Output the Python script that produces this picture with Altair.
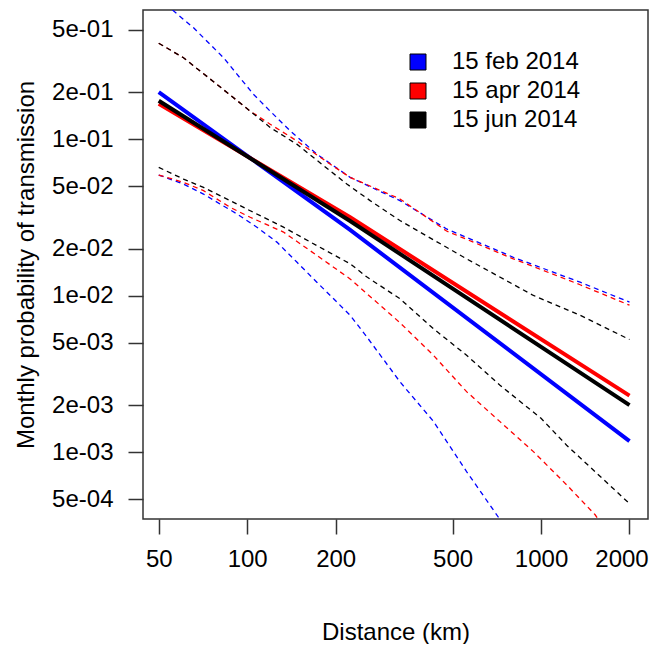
import altair as alt
import pandas as pd

series_names = ["15 feb 2014", "15 apr 2014", "15 jun 2014"]
series_colors = ["#0000FF", "#FF0000", "#000000"]

# fitted power-law curves (solid)
fit_dist = [50, 224, 2000]
fit_feb = [0.200, 0.0263, 0.00118]
fit_apr = [0.168, 0.0317, 0.00230]
fit_jun = [0.176, 0.0300, 0.00200]

# upper bounds (dashed)
upper_feb_dist = [50, 55.4, 65.7, 83.1, 105, 119.7, 140, 172.6, 224, 331, 477, 805, 1358, 2000]
upper_feb = [0.79, 0.673, 0.514, 0.331, 0.1935, 0.151, 0.113, 0.0802, 0.057, 0.0405, 0.0267, 0.0176, 0.0122, 0.0091]
upper_apr_dist = [50, 60.7, 78.8, 102.4, 119.7, 147.5, 191.4, 224, 331, 477, 805, 1358, 2000]
upper_apr = [0.41, 0.331, 0.224, 0.151, 0.1246, 0.0975, 0.0693, 0.057, 0.0415, 0.0259, 0.0172, 0.01175, 0.0087]
upper_jun_dist = [50, 60.7, 78.8, 102.4, 119.7, 147.5, 191.4, 218.3, 262, 331, 558, 942, 1358, 2000]
upper_jun = [0.41, 0.331, 0.224, 0.151, 0.1187, 0.0929, 0.0628, 0.0517, 0.0405, 0.0302, 0.0172, 0.01004, 0.0075, 0.00525]

# lower bounds (dashed)
lower_feb_dist = [50, 60.7, 71.0, 80.9, 92.3, 107.9, 126.2, 147.5, 172.6, 201.8, 224, 255, 331, 430, 558, 716, 740]
lower_feb = [0.059, 0.0517, 0.0446, 0.0385, 0.0333, 0.0274, 0.0220, 0.0164, 0.0122, 0.00912, 0.0075, 0.00548, 0.00282, 0.00158, 0.000753, 0.000385, 0.00034]
lower_apr_dist = [50, 60.7, 71.0, 87.5, 102.4, 132.9, 172.6, 224, 331, 430, 558, 725, 942, 1222, 1528, 1620]
lower_apr = [0.059, 0.053, 0.0469, 0.0367, 0.0317, 0.0255, 0.0181, 0.0128, 0.00673, 0.00417, 0.00244, 0.00157, 0.00101, 0.00062, 0.000399, 0.00034]
lower_jun_dist = [50, 60.7, 71.0, 87.5, 102.4, 132.9, 172.6, 224, 255, 331, 430, 558, 725, 1000, 1222, 2000]
lower_jun = [0.066, 0.0556, 0.0492, 0.0405, 0.0349, 0.0274, 0.0209, 0.0160, 0.0132, 0.00957, 0.00616, 0.00417, 0.00268, 0.00165, 0.00111, 0.00047]

x_ticks = [50, 100, 200, 500, 1000, 2000]
y_ticks = [5e-4, 1e-3, 2e-3, 5e-3, 1e-2, 2e-2, 5e-2, 1e-1, 2e-1, 5e-1]

rows = []


def add(series, kind, dists, probs):
    for d, p in zip(dists, probs):
        rows.append({"series": series, "kind": kind, "line": series + " " + kind, "dist": d, "prob": p})


add(series_names[0], "fit", fit_dist, fit_feb)
add(series_names[1], "fit", fit_dist, fit_apr)
add(series_names[2], "fit", fit_dist, fit_jun)
add(series_names[0], "upper", upper_feb_dist, upper_feb)
add(series_names[0], "lower", lower_feb_dist, lower_feb)
add(series_names[1], "upper", upper_apr_dist, upper_apr)
add(series_names[1], "lower", lower_apr_dist, lower_apr)
add(series_names[2], "upper", upper_jun_dist, upper_jun)
add(series_names[2], "lower", lower_jun_dist, lower_jun)
df = pd.DataFrame(rows)

FONT = "Liberation Sans"

x_enc = alt.X(
    "dist:Q",
    scale=alt.Scale(type="log", domain=[44.2, 2312], nice=False),
    axis=alt.Axis(
        values=x_ticks,
        format="d",
        title="Distance (km)",
        labelPadding=13,
        labelOffset={"condition": {"test": "datum.value == 2000", "value": -8}, "value": 0},
        titlePadding=49,
    ),
)
y_enc = alt.Y(
    "prob:Q",
    scale=alt.Scale(type="log", domain=[3.75e-4, 0.668], nice=False),
    axis=alt.Axis(
        values=y_ticks,
        labelExpr="replace(format(datum.value, '.0e'), 'e-', 'e-0')",
        title="Monthly probability of transmission",
        labelPadding=15,
        titlePadding=13,
    ),
)
color_scale = alt.Scale(domain=series_names, range=series_colors)
legend = alt.Legend(
    title=None,
    orient="none",
    legendX=263,
    legendY=40,
    symbolType="square",
    symbolSize=256,
    symbolStrokeWidth=1,
    symbolStrokeColor="#000",
    symbolOpacity=1,
    labelFont=FONT,
    labelFontSize=24,
    labelColor="#000",
    labelOffset=22,
    rowPadding=5,
    padding=0,
)

bounds = (
    alt.Chart(df)
    .transform_filter("datum.kind != 'fit'")
    .mark_line(strokeWidth=1.3, strokeDash=[5, 4], clip=True)
    .encode(x=x_enc, y=y_enc, color=alt.Color("series:N", scale=color_scale, legend=None), detail="line:N")
)
fits = (
    alt.Chart(df)
    .transform_filter("datum.kind == 'fit'")
    .mark_line(strokeWidth=4, clip=True)
    .encode(x=x_enc, y=y_enc, color=alt.Color("series:N", scale=color_scale, legend=None), detail="line:N")
)
# legend-only layer (no rows pass the filter; legend comes from the colour scale)
keys = (
    alt.Chart(df)
    .transform_filter("false")
    .mark_point(shape="square", filled=True, opacity=1)
    .encode(x=x_enc, y=y_enc, color=alt.Color("series:N", scale=color_scale, legend=legend))
)

chart = (
    alt.layer(bounds, fits, keys)
    .resolve_legend(color="independent")
    .properties(
        width=505,
        height=509,
        autosize=alt.AutoSizeParams(type="none"),
        padding={"left": 135, "top": 2, "right": 1, "bottom": 125},
    )
    .configure_view(stroke="#333", strokeWidth=1.5)
    .configure_axis(
        domain=False,
        grid=False,
        tickSize=15,
        tickColor="#333",
        tickWidth=1.5,
        labelFont=FONT,
        labelFontSize=24,
        labelColor="#000",
        labelFlush=False,
        labelOverlap=False,
        titleFont=FONT,
        titleFontSize=24,
        titleFontWeight="normal",
        titleColor="#000",
    )
)

chart.save("out.html", embed_options={"renderer": "svg", "actions": False})
